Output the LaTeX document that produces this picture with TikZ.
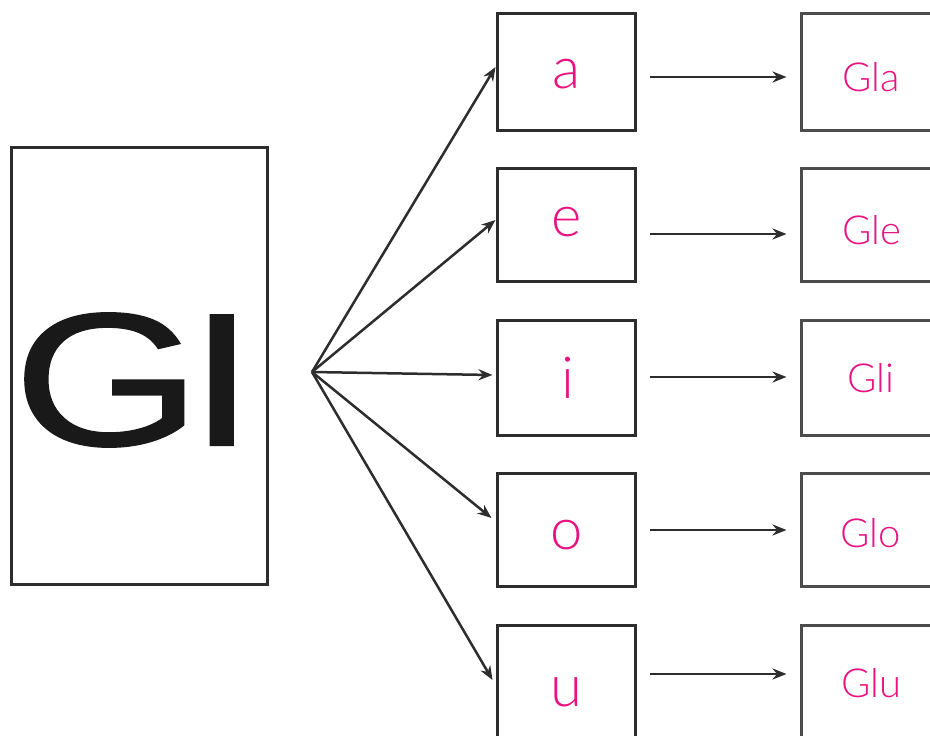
\documentclass[tikz,border=0pt]{standalone}
\usepackage{fontspec}
\setmainfont{Liberation Sans}
\newfontfamily\gifont[FakeStretch=1.28,FakeBold=0.7]{Liberation Sans}
\newfontfamily\pinkfont{Lato Light}
\usetikzlibrary{arrows.meta}
\definecolor{pinktext}{RGB}{232,18,128}
\definecolor{boxline}{RGB}{45,45,45}
\tikzset{
  boxstyle/.style={draw=boxline, line width=3pt, inner sep=0pt, fill=white},
  arr/.style={draw=boxline, line width=2.5pt, -{Stealth[length=14pt,width=11pt]}},
  vowel/.style={text=pinktext, font=\pinkfont\fontsize{58}{58}\selectfont, anchor=base, inner sep=0pt},
  gword/.style={text=pinktext, font=\pinkfont\fontsize{40}{40}\selectfont, anchor=base, inner sep=0pt},
}
\begin{document}
\begin{tikzpicture}[x=1pt,y=-1pt]
\useasboundingbox (0,0) rectangle (930,736);
\fill[white] (0,0) rectangle (930,736);
% big GI box
\node[boxstyle, minimum width=256pt, minimum height=437pt] (gi) at (139,365.5) {};
\node[inner sep=0pt, font=\gifont\fontsize{190}{190}\selectfont, text=black!90] (gitext) at (134,380) {G\kern-14pt I};
\coordinate (hub) at (312,372);
% vowel boxes
\node[boxstyle, minimum width=138pt, minimum height=117pt] (ba) at (566,71.5) {};
\node[boxstyle, minimum width=138pt, minimum height=113pt] (be) at (566,224.5) {};
\node[boxstyle, minimum width=138pt, minimum height=115pt] (bi) at (566,377.5) {};
\node[boxstyle, minimum width=138pt, minimum height=113pt] (bo) at (566,529.5) {};
\node[boxstyle, minimum width=138pt, minimum height=115pt] (bu) at (566,682.5) {};
% right boxes
\node[boxstyle, draw=boxline!85, minimum width=160pt, minimum height=117pt] (ra) at (881,71.5) {};
\node[boxstyle, draw=boxline!85, minimum width=160pt, minimum height=113pt] (re) at (881,224.5) {};
\node[boxstyle, draw=boxline!85, minimum width=160pt, minimum height=115pt] (ri) at (881,377.5) {};
\node[boxstyle, draw=boxline!85, minimum width=160pt, minimum height=113pt] (ro) at (881,529.5) {};
\node[boxstyle, draw=boxline!85, minimum width=160pt, minimum height=115pt] (ru) at (881,682.5) {};
% vowel texts
\node[vowel] (ta) at (567,88) {a};
\node[vowel] (te) at (567,236) {e};
\node[vowel] (ti) at (568,398) {i};
\node[vowel] (to) at (567,549) {o};
\node[vowel] (tu) at (566,706) {u};
% word texts
\node[gword] (tga) at (871,91) {Gla};
\node[gword] (tge) at (872,244) {Gle};
\node[gword] (tgi) at (871,392) {Gli};
\node[gword] (tgo) at (871,547) {Glo};
\node[gword] (tgu) at (871,697) {Glu};
% fan arrows
\draw[arr] (hub) -- ([yshift=4.5pt]ba.west);
\draw[arr] (hub) -- ([yshift=4.5pt]be.west);
\draw[arr] (hub) -- ([yshift=2.5pt,xshift=-3pt]bi.west);
\draw[arr] (hub) -- ([yshift=11.5pt,xshift=-4pt]bo.west);
\draw[arr] (hub) -- ([yshift=2.5pt,xshift=-3pt]bu.west);
% horizontal arrows
\draw[arr] ([xshift=13pt,yshift=-5.5pt]ba.east) -- ([xshift=-13pt,yshift=-5.5pt]ra.west);
\draw[arr] ([xshift=13pt,yshift=-9.5pt]be.east) -- ([xshift=-13pt,yshift=-9.5pt]re.west);
\draw[arr] ([xshift=13pt,yshift=0.5pt]bi.east) -- ([xshift=-13pt,yshift=0.5pt]ri.west);
\draw[arr] ([xshift=13pt,yshift=-0.5pt]bo.east) -- ([xshift=-13pt,yshift=-0.5pt]ro.west);
\draw[arr] ([xshift=13pt,yshift=8.5pt]bu.east) -- ([xshift=-13pt,yshift=8.5pt]ru.west);
\end{tikzpicture}
\end{document}
